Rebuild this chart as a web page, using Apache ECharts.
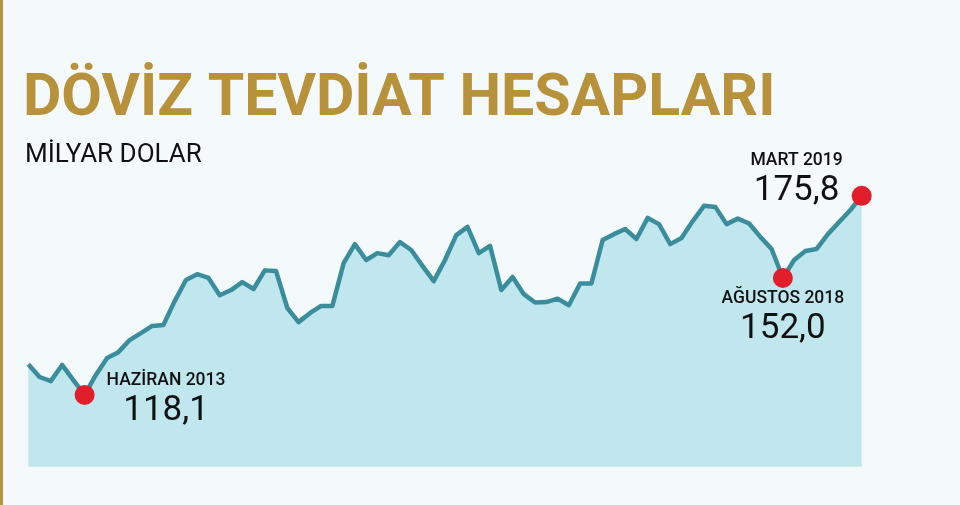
<!DOCTYPE html>
<html>
<head>
<meta charset="utf-8">
<script src="https://cdn.jsdelivr.net/npm/echarts@6/dist/echarts.min.js"></script>
<style>
  html, body { margin: 0; padding: 0; background: #f4f9fc; }
  #chart { width: 960px; height: 505px; }
</style>
</head>
<body>
<div id="chart"></div>
<script>
// Months: January 2013 .. March 2019
const categories = [
  'OCAK 2013','ŞUBAT 2013','MART 2013','NİSAN 2013','MAYIS 2013','HAZİRAN 2013','TEMMUZ 2013','AĞUSTOS 2013','EYLÜL 2013','EKİM 2013','KASIM 2013','ARALIK 2013',
  'OCAK 2014','ŞUBAT 2014','MART 2014','NİSAN 2014','MAYIS 2014','HAZİRAN 2014','TEMMUZ 2014','AĞUSTOS 2014','EYLÜL 2014','EKİM 2014','KASIM 2014','ARALIK 2014',
  'OCAK 2015','ŞUBAT 2015','MART 2015','NİSAN 2015','MAYIS 2015','HAZİRAN 2015','TEMMUZ 2015','AĞUSTOS 2015','EYLÜL 2015','EKİM 2015','KASIM 2015','ARALIK 2015',
  'OCAK 2016','ŞUBAT 2016','MART 2016','NİSAN 2016','MAYIS 2016','HAZİRAN 2016','TEMMUZ 2016','AĞUSTOS 2016','EYLÜL 2016','EKİM 2016','KASIM 2016','ARALIK 2016',
  'OCAK 2017','ŞUBAT 2017','MART 2017','NİSAN 2017','MAYIS 2017','HAZİRAN 2017','TEMMUZ 2017','AĞUSTOS 2017','EYLÜL 2017','EKİM 2017','KASIM 2017','ARALIK 2017',
  'OCAK 2018','ŞUBAT 2018','MART 2018','NİSAN 2018','MAYIS 2018','HAZİRAN 2018','TEMMUZ 2018','AĞUSTOS 2018','EYLÜL 2018','EKİM 2018','KASIM 2018','ARALIK 2018',
  'OCAK 2019','ŞUBAT 2019','MART 2019'
];

// FX deposit accounts, billion USD
const deposits = [
  127.0, 123.3, 122.1, 126.8, 122.4, 118.1, 123.9, 128.8, 130.5, 134.0, 136.0, 138.1,
  138.4, 145.3, 151.4, 153.1, 152.0, 147.0, 148.5, 150.8, 148.8, 154.2, 154.0, 143.3,
  139.2, 141.8, 143.9, 143.9, 156.3, 161.8, 157.2, 159.2, 158.6, 162.4, 160.1, 155.5,
  151.1, 157.2, 164.4, 166.8, 159.2, 161.3, 148.5, 152.3, 147.3, 144.9, 145.0, 146.0,
  144.1, 150.4, 150.4, 163.0, 164.7, 166.2, 163.3, 169.4, 167.6, 161.8, 163.6, 168.5,
  172.9, 172.6, 167.6, 169.2, 167.8, 163.9, 160.4, 152.0, 157.2, 159.8, 160.4, 164.7,
  168.2, 171.7, 175.8
];

// Highlighted months (index into categories) and where their label sits
const highlightIdx = [5, 67, 74];
const highlightPos = ['right', 'bottom', 'left'];

const titleText = 'DÖVİZ TEVDİAT HESAPLARI';
const subtitleText = 'MİLYAR DOLAR';

const fmt = v => v.toFixed(1).replace('.', ',');

const labelCfg = {
  right:  { position: 'right',  distance: 12, offset: [0, 5] },
  bottom: { position: 'bottom', distance: 0,  offset: [0, 0] },
  left:   { position: 'left',   distance: 9,  offset: [0, -16] }
};

const seriesData = deposits.map((v, i) => {
  const h = highlightIdx.indexOf(i);
  if (h < 0) return { value: v, symbol: 'none' };
  const cfg = labelCfg[highlightPos[h]];
  return {
    value: v,
    symbol: 'circle',
    symbolSize: 20,
    itemStyle: { color: '#e01f2b', borderWidth: 0 },
    label: {
      show: true,
      position: cfg.position,
      distance: cfg.distance,
      offset: cfg.offset,
      formatter: '{a|' + categories[i] + '}\n{b|' + fmt(v) + '}',
      rich: {
        a: { fontFamily: 'Roboto', fontSize: 17.5, fontWeight: 500, color: '#111111', lineHeight: 22, align: 'center' },
        b: { fontFamily: 'Roboto', fontSize: 35, fontWeight: 400, color: '#111111', lineHeight: 38, align: 'center' }
      }
    }
  };
});

const chart = echarts.init(document.getElementById('chart'), null, { renderer: 'canvas' });
chart.setOption({
  animation: false,
  backgroundColor: '#f4f9fc',
  grid: { left: 28.3, right: 98.3, top: 112.35, bottom: 38.3, containLabel: false },
  xAxis: {
    type: 'category',
    data: categories,
    boundaryGap: false,
    show: false
  },
  yAxis: {
    type: 'value',
    min: 97.3,
    max: 200,
    show: false,
    splitLine: { show: false }
  },
  graphic: [
    { type: 'rect', shape: { x: 0, y: 0, width: 3, height: 505 }, style: { fill: '#b8923a' } },
    { type: 'text', x: 23, y: 100, style: { text: titleText, fontFamily: 'Roboto', fontWeight: 'bold', fontSize: 59, fill: '#b8923a', verticalAlign: 'middle', align: 'left' } },
    { type: 'text', x: 25, y: 155, style: { text: subtitleText, fontFamily: 'Roboto', fontWeight: 400, fontSize: 26, fill: '#111111', verticalAlign: 'middle', align: 'left' } }
  ],
  series: [{
    type: 'line',
    data: seriesData,
    showSymbol: true,
    showAllSymbol: true,
    symbol: 'none',
    lineStyle: { color: '#3a8d9c', width: 4.5, join: 'round' },
    itemStyle: { color: '#3a8d9c' },
    areaStyle: { color: '#c0e7ee', opacity: 1, origin: 'start' },
    emphasis: { disabled: true },
    z: 2
  }]
});
</script>
</body>
</html>
